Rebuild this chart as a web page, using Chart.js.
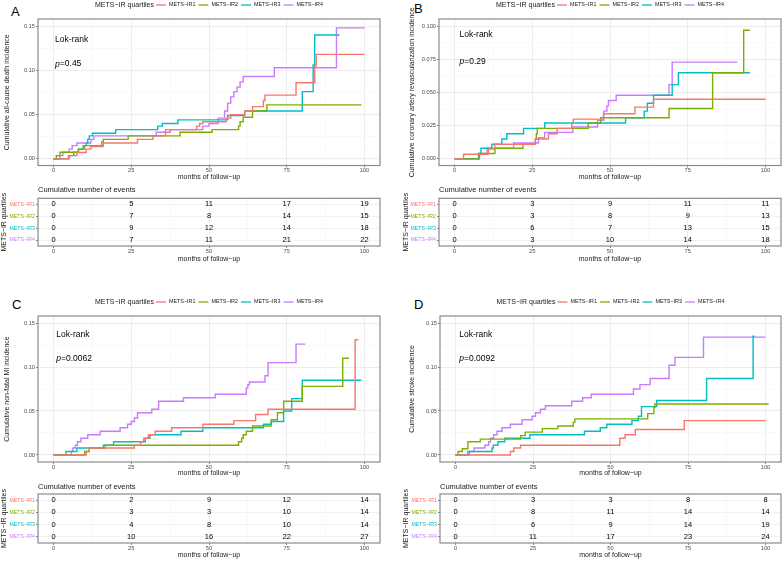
<!DOCTYPE html>
<html>
<head>
<meta charset="utf-8">
<script src="https://cdn.jsdelivr.net/npm/chart.js@4.4.1/dist/chart.umd.min.js"></script>
<style>
  body { margin: 0; background: #fff; width: 784px; height: 562px; position: relative; overflow: hidden; font-family: "Liberation Sans", Arial, sans-serif; }
  canvas { position: absolute; }
  .tag { position: absolute; font-size: 13px; line-height: 13px; color: #000; }
</style>
</head>
<body>
<div class="tag" style="left:11px;top:5px">A</div>
<div class="tag" style="left:414px;top:2px">B</div>
<div class="tag" style="left:12px;top:298px">C</div>
<div class="tag" style="left:414px;top:298px">D</div>

<canvas id="plotA" width="390" height="182" style="left:0;top:0"></canvas>
<canvas id="tableA" width="390" height="82" style="left:0;top:182px"></canvas>
<canvas id="plotB" width="392" height="182" style="left:392px;top:0"></canvas>
<canvas id="tableB" width="392" height="82" style="left:392px;top:182px"></canvas>
<canvas id="plotC" width="390" height="193" style="left:0;top:285px"></canvas>
<canvas id="tableC" width="390" height="84" style="left:0;top:478px"></canvas>
<canvas id="plotD" width="392" height="193" style="left:392px;top:285px"></canvas>
<canvas id="tableD" width="392" height="84" style="left:392px;top:478px"></canvas>

<script>
const groups = ['METS−IR1', 'METS−IR2', 'METS−IR3', 'METS−IR4'];
const groupColors = ['#F8766D', '#7CAE00', '#00BFC4', '#C77CFF'];
const eventTimes = [0, 25, 50, 75, 100];

// [month, cumulative incidence] at each step
const deathIR1 = [[0,0],[4.8,0.0036],[7.5,0.0072],[10.5,0.011],[12,0.014],[16,0.018],[27,0.022],[32,0.026],[36,0.030],[37.5,0.033],[46,0.037],[47,0.040],[48,0.042],[55.5,0.046],[57,0.050],[61.5,0.054],[64,0.059],[67.5,0.066],[68,0.072],[78,0.086],[84,0.105],[84.5,0.118],[100,0.118]];
const deathIR2 = [[0,0],[0.9,0.0037],[2.1,0.0075],[8,0.011],[10,0.015],[15.5,0.019],[16,0.022],[24,0.026],[40.7,0.030],[51,0.033],[59.5,0.037],[60,0.042],[61,0.047],[64,0.054],[68.6,0.061],[99,0.061]];
const deathIR3 = [[0,0],[5,0.0037],[6.5,0.0074],[8,0.011],[9.5,0.015],[10.5,0.018],[11,0.022],[11.5,0.026],[12.5,0.029],[20,0.033],[33.5,0.037],[35,0.040],[40,0.044],[56,0.049],[61.5,0.054],[80,0.076],[83.5,0.106],[84,0.140],[92,0.140]];
const deathIR4 = [[0,0],[2,0.0037],[3,0.0074],[5,0.011],[6,0.015],[7.5,0.018],[12,0.022],[13,0.026],[33,0.030],[36,0.033],[48,0.037],[50,0.040],[53,0.046],[55,0.054],[56,0.063],[57,0.070],[58,0.076],[59,0.081],[60,0.087],[61,0.093],[71,0.103],[91,0.148],[100,0.148]];

const revascIR1 = [[0,0],[2.9,0.0035],[10.9,0.0075],[13,0.011],[26,0.015],[30.2,0.019],[33,0.023],[37.7,0.027],[38.2,0.030],[47.9,0.034],[58,0.039],[64,0.045],[100,0.045]];
const revascIR2 = [[0,0],[8,0.004],[13,0.008],[22,0.011],[26,0.015],[26.3,0.019],[26.6,0.023],[43,0.027],[47,0.031],[69,0.038],[83,0.065],[93,0.097],[95,0.097]];
const revascIR3 = [[0,0],[7.7,0.004],[8.5,0.008],[12,0.011],[15.2,0.015],[16.8,0.019],[22.2,0.023],[29,0.027],[55,0.031],[61,0.036],[62,0.042],[64,0.048],[70,0.056],[72,0.065],[95,0.065]];
const revascIR4 = [[0,0],[8,0.004],[10.5,0.008],[19,0.012],[27,0.016],[29,0.020],[38,0.024],[46,0.029],[48,0.036],[49,0.040],[49.5,0.044],[52,0.048],[69,0.056],[70,0.073],[91,0.073]];

const miIR1 = [[0,0],[10.5,0.004],[11.5,0.008],[26,0.011],[28,0.015],[29,0.019],[30.5,0.023],[32.7,0.027],[38,0.031],[48,0.035],[58,0.039],[65,0.046],[69,0.052],[97,0.131],[98,0.131]];
const miIR2 = [[0,0],[10,0.004],[11.5,0.008],[16.6,0.011],[59.5,0.015],[60.5,0.019],[61,0.023],[62,0.027],[64,0.033],[70,0.040],[72,0.048],[74,0.061],[80,0.078],[93,0.110],[95,0.110]];
const miIR3 = [[0,0],[4,0.004],[7.5,0.008],[16,0.011],[19.3,0.015],[29.5,0.019],[31,0.023],[41,0.027],[48,0.031],[67.5,0.035],[70,0.038],[74,0.050],[76.6,0.064],[80,0.085],[99,0.085]];
const miIR4 = [[0,0],[5.7,0.004],[6.2,0.008],[7,0.011],[7.7,0.015],[8.8,0.019],[11,0.023],[15,0.027],[21.4,0.031],[23.8,0.035],[25,0.038],[26,0.042],[27,0.048],[31.6,0.052],[33.8,0.061],[41.8,0.065],[52,0.069],[62,0.076],[62.5,0.080],[63,0.083],[68,0.090],[69,0.105],[78,0.126],[81,0.126]];

const strokeIR1 = [[0,0],[17.7,0.004],[18.8,0.008],[21,0.011],[53,0.019],[54.7,0.023],[58,0.029],[73.8,0.039],[100,0.039]];
const strokeIR2 = [[0,0],[0.8,0.004],[2.2,0.007],[4,0.015],[8,0.018],[21,0.022],[22.5,0.026],[28,0.030],[33,0.033],[38,0.037],[38.5,0.041],[62,0.047],[64,0.054],[64.3,0.058],[101,0.058]];
const strokeIR3 = [[0,0],[4,0.004],[11.8,0.008],[12.2,0.011],[13.7,0.015],[15.9,0.019],[24,0.023],[41.6,0.027],[46.7,0.031],[48.8,0.035],[56.9,0.039],[59,0.044],[60,0.055],[64.9,0.062],[81,0.087],[96,0.135],[96.5,0.135]];
const strokeIR4 = [[0,0],[4.5,0.004],[6,0.008],[9.5,0.011],[10.7,0.015],[11.3,0.019],[12.3,0.023],[13.4,0.027],[15,0.031],[17.7,0.035],[21.5,0.040],[24.7,0.044],[25.8,0.048],[27.4,0.052],[29,0.056],[37.5,0.061],[41,0.065],[43.8,0.069],[57.4,0.075],[59.5,0.080],[62.8,0.087],[68.9,0.102],[70.8,0.111],[80,0.134],[100,0.134]];

// cumulative number of events at 0, 25, 50, 75, 100 months (rows IR1..IR4)
const deathEvents = [[0,5,11,17,19],[0,7,8,14,15],[0,9,12,14,18],[0,7,11,21,22]];
const revascEvents = [[0,3,9,11,11],[0,3,8,9,13],[0,6,7,13,15],[0,3,10,14,18]];
const miEvents = [[0,2,9,12,14],[0,3,3,10,14],[0,4,8,10,14],[0,10,16,22,27]];
const strokeEvents = [[0,3,3,8,8],[0,8,11,14,14],[0,6,9,14,19],[0,11,17,23,24]];

const FONT = '"Liberation Sans", Arial, sans-serif';
const TEXT = '#1a1a1a';
const TICK = '#4d4d4d';
Chart.defaults.font.family = FONT;

function isMajor(v, step) {
    return Math.round(v / step) % 2 === 0;
}

// ggplot style panel border
const frame = {
    id: 'frame',
    afterDatasetsDraw(chart) {
        const a = chart.chartArea;
        const ctx = chart.ctx;
        ctx.save();
        ctx.strokeStyle = '#8a8a8a';
        ctx.lineWidth = 1.2;
        ctx.strokeRect(a.left, a.top, a.right - a.left, a.bottom - a.top);
        ctx.restore();
    }
};

// "METS-IR quartiles" legend on one row, like ggplot
const quartileLegend = {
    id: 'quartileLegend',
    afterDraw(chart, args, opts) {
        const ctx = chart.ctx;
        const area = chart.chartArea;
        const sets = chart.data.datasets;
        ctx.save();
        ctx.textBaseline = 'middle';
        ctx.textAlign = 'left';
        ctx.font = '7px ' + FONT;
        const titleW = ctx.measureText(opts.title).width;
        ctx.font = '5.4px ' + FONT;
        const widths = sets.map(s => ctx.measureText(s.label).width);
        const total = titleW + 2 + widths.reduce((s, w) => s + 13 + w + 3, 0) - 3;
        let x = (area.left + area.right) / 2 - total / 2;
        ctx.fillStyle = TEXT;
        ctx.font = '7px ' + FONT;
        ctx.fillText(opts.title, x, opts.y);
        x += titleW + 2;
        ctx.font = '5.4px ' + FONT;
        sets.forEach((s, i) => {
            ctx.strokeStyle = s.borderColor;
            ctx.lineWidth = 1.3;
            ctx.beginPath();
            ctx.moveTo(x, opts.y);
            ctx.lineTo(x + 10, opts.y);
            ctx.stroke();
            x += 13;
            ctx.fillStyle = TEXT;
            ctx.fillText(s.label, x, opts.y);
            x += widths[i] + 3;
        });
        ctx.restore();
    }
};

const logRankText = {
    id: 'logRankText',
    afterDatasetsDraw(chart, args, opts) {
        const ctx = chart.ctx;
        const {x, y} = chart.scales;
        const left = x.getPixelForValue(opts.x);
        ctx.save();
        ctx.fillStyle = '#000';
        ctx.textBaseline = 'middle';
        ctx.textAlign = 'left';
        ctx.font = '8.5px ' + FONT;
        ctx.fillText('Lok-rank', left, y.getPixelForValue(opts.lokY));
        const py = y.getPixelForValue(opts.pY);
        ctx.font = 'italic 8.5px ' + FONT;
        ctx.fillText('p', left, py);
        const w = ctx.measureText('p').width;
        ctx.font = '8.5px ' + FONT;
        ctx.fillText('=' + opts.p, left + w, py);
        ctx.restore();
    }
};

const cellText = {
    id: 'cellText',
    afterDatasetsDraw(chart) {
        const ctx = chart.ctx;
        ctx.save();
        ctx.fillStyle = '#000';
        ctx.textAlign = 'center';
        ctx.textBaseline = 'middle';
        ctx.font = '7.5px ' + FONT;
        chart.data.datasets.forEach((ds, d) => {
            chart.getDatasetMeta(d).data.forEach((pt, i) => {
                ctx.fillText(String(ds.counts[i]), pt.x, pt.y);
            });
        });
        ctx.restore();
    }
};

function gridFor(step) {
    return {
        color: c => (c.tick && !isMajor(c.tick.value, step)) ? '#f3f3f3' : '#e8e8e8',
        lineWidth: c => (c.tick && !isMajor(c.tick.value, step)) ? 0.5 : 0.8,
        tickLength: 2,
        tickWidth: 0.7,
        tickColor: c => (c.tick && !isMajor(c.tick.value, step)) ? 'rgba(0,0,0,0)' : TICK
    };
}

function timeAxis(height, titlePad) {
    return {
        type: 'linear',
        min: -5,
        max: 105,
        afterFit: axis => { axis.height = height; },
        border: { display: false },
        grid: gridFor(12.5),
        ticks: {
            stepSize: 12.5,
            includeBounds: false,
            autoSkip: false,
            maxRotation: 0,
            padding: 0,
            color: TICK,
            font: { size: 5.7 },
            callback: v => isMajor(v, 12.5) ? String(v) : ''
        },
        title: {
            display: true,
            text: 'months of follow−up',
            color: TEXT,
            font: { size: 7 },
            padding: { top: 0, bottom: titlePad }
        }
    };
}

function makePlot(id, curves, p) {
    const datasets = curves.map((c, i) => ({
        label: groups[i],
        data: c.map(pt => ({ x: pt[0], y: pt[1] })),
        borderColor: groupColors[i],
        backgroundColor: groupColors[i],
        borderWidth: 1.4,
        stepped: true,
        pointRadius: 0,
        pointHoverRadius: 0,
        fill: false
    }));
    return new Chart(document.getElementById(id), {
        type: 'line',
        data: { datasets },
        plugins: [frame, quartileLegend, logRankText],
        options: {
            responsive: false,
            animation: false,
            devicePixelRatio: 1,
            layout: { padding: { top: p.padTop, right: p.padRight, left: 0, bottom: 0 } },
            plugins: {
                legend: { display: false },
                tooltip: { enabled: false },
                quartileLegend: { title: 'METS−IR quartiles', y: p.legendY },
                logRankText: { x: p.textX, lokY: p.lokY, pY: p.pY, p: p.p }
            },
            scales: {
                x: timeAxis(p.xHeight, 0.8),
                y: {
                    type: 'linear',
                    min: p.yMin,
                    max: p.yMax,
                    afterFit: axis => { axis.width = p.yWidth; },
                    border: { display: false },
                    grid: gridFor(p.step),
                    ticks: {
                        stepSize: p.step,
                        includeBounds: false,
                        padding: 1,
                        color: TICK,
                        font: { size: 5.7 },
                        callback: v => isMajor(v, p.step) ? v.toFixed(p.digits) : ''
                    },
                    title: {
                        display: true,
                        text: p.yTitle,
                        color: TEXT,
                        font: { size: 7 },
                        padding: { top: p.yTitlePad, bottom: 0 }
                    }
                }
            }
        }
    });
}

function makeTable(id, counts, p) {
    const datasets = counts.map((row, g) => ({
        label: groups[g],
        counts: row,
        data: eventTimes.map(t => ({ x: t, y: groups[g] })),
        pointRadius: 0,
        pointHoverRadius: 0
    }));
    return new Chart(document.getElementById(id), {
        type: 'scatter',
        data: { datasets },
        plugins: [frame, cellText],
        options: {
            responsive: false,
            animation: false,
            devicePixelRatio: 1,
            layout: { padding: { top: 0, right: p.padRight, left: 0, bottom: 0 } },
            plugins: {
                legend: { display: false },
                tooltip: { enabled: false },
                title: {
                    display: true,
                    text: 'Cumulative number of events',
                    align: 'start',
                    fullSize: false,
                    color: TEXT,
                    font: { size: 7.5, weight: 'normal' },
                    padding: { top: p.titleTop, bottom: p.titleBottom }
                }
            },
            scales: {
                x: timeAxis(p.xHeight, p.xTitlePad),
                y: {
                    type: 'category',
                    labels: groups,
                    offset: true,
                    afterFit: axis => { axis.width = p.yWidth; },
                    border: { display: false },
                    grid: { offset: false, color: '#ececec', lineWidth: 0.7, tickLength: 2, tickWidth: 0.7, tickColor: TICK },
                    ticks: {
                        padding: 1,
                        font: { size: 5.2 },
                        color: c => groupColors[c.index]
                    },
                    title: {
                        display: true,
                        text: 'METS−IR quartiles',
                        color: TEXT,
                        font: { size: 7 },
                        padding: { top: p.yTitlePad, bottom: 0 }
                    }
                }
            }
        }
    });
}

makePlot('plotA', [deathIR1, deathIR2, deathIR3, deathIR4], {
    yMin: -0.0075, yMax: 0.158, step: 0.025, digits: 2, yWidth: 38,
    yTitle: 'Cumulative all-cause death incidence', yTitlePad: 2.8,
    padTop: 19, padRight: 10, xHeight: 16.5, legendY: 5,
    p: '0.45', textX: 0.5, lokY: 0.1347, pY: 0.107
});
makeTable('tableA', deathEvents, {
    padRight: 10, yWidth: 38, yTitlePad: 0.2, titleTop: 3.7, titleBottom: 3.6, xHeight: 18, xTitlePad: 0.8
});

makePlot('plotB', [revascIR1, revascIR2, revascIR3, revascIR4], {
    yMin: -0.005, yMax: 0.1055, step: 0.0125, digits: 3, yWidth: 47,
    yTitle: 'Cumulative coronary artery revascularization incidence', yTitlePad: 16.3,
    padTop: 19, padRight: 3, xHeight: 16.5, legendY: 5,
    p: '0.29', textX: 1.6, lokY: 0.0934, pY: 0.0733
});
makeTable('tableB', revascEvents, {
    padRight: 3, yWidth: 47, yTitlePad: 9.5, titleTop: 3.7, titleBottom: 3.6, xHeight: 18, xTitlePad: 0.8
});

makePlot('plotC', [miIR1, miIR2, miIR3, miIR4], {
    yMin: -0.008, yMax: 0.158, step: 0.025, digits: 2, yWidth: 38,
    yTitle: 'Cumulative non-fatal MI incidence', yTitlePad: 2.5,
    padTop: 31, padRight: 10, xHeight: 16, legendY: 17,
    p: '0.0062', textX: 0.9, lokY: 0.1367, pY: 0.109
});
makeTable('tableC', miEvents, {
    padRight: 10, yWidth: 38, yTitlePad: 0.2, titleTop: 4.5, titleBottom: 2.5, xHeight: 19, xTitlePad: 2.8
});

makePlot('plotD', [strokeIR1, strokeIR2, strokeIR3, strokeIR4], {
    yMin: -0.008, yMax: 0.158, step: 0.025, digits: 2, yWidth: 48,
    yTitle: 'Cumulative stroke incidence', yTitlePad: 16.3,
    padTop: 31, padRight: 3, xHeight: 16, legendY: 17,
    p: '0.0092', textX: 1.2, lokY: 0.1367, pY: 0.1097
});
makeTable('tableD', strokeEvents, {
    padRight: 3, yWidth: 48, yTitlePad: 9.5, titleTop: 4.5, titleBottom: 2.5, xHeight: 19, xTitlePad: 2.8
});
</script>
</body>
</html>
